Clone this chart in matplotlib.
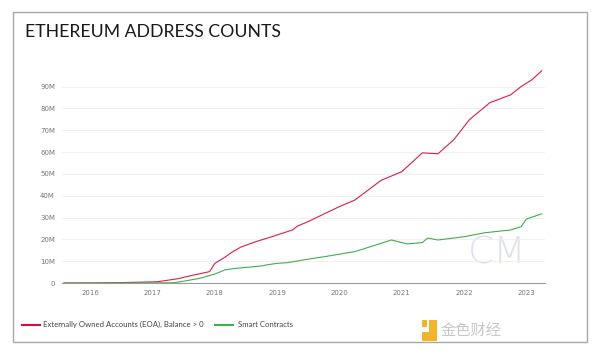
import pandas as pd
import matplotlib
matplotlib.use("Agg")
import matplotlib.pyplot as plt
import matplotlib.dates as mdates
from matplotlib.patches import Rectangle

# Datos (millones de direcciones)
eoa_fechas = ["2015-08", "2016-01", "2016-07", "2017-01", "2017-02", "2017-06",
              "2017-09", "2017-12", "2018-01", "2018-03", "2018-04", "2018-06",
              "2018-09", "2018-12", "2019-04", "2019-05", "2019-07", "2020-01",
              "2020-04", "2020-09", "2021-01", "2021-05", "2021-08", "2021-11",
              "2022-02", "2022-06", "2022-10", "2022-12", "2023-02", "2023-04"]
eoa_valores = [0.0, 0.05, 0.2, 0.5, 0.6, 2.0,
               3.7, 5.2, 9.0, 11.8, 13.6, 16.4,
               19.0, 21.2, 24.3, 26.1, 28.1, 35.0,
               38.0, 47.0, 51.0, 59.6, 59.2, 65.6,
               74.8, 82.6, 86.2, 90.0, 93.0, 97.2]

sc_fechas = ["2015-08", "2017-01", "2017-05", "2017-07", "2017-10", "2018-01",
             "2018-03", "2018-05", "2018-10", "2018-11", "2019-01", "2019-03",
             "2019-07", "2019-11", "2020-04", "2020-08", "2020-11", "2021-02",
             "2021-05", "2021-06", "2021-08", "2022-01", "2022-05", "2022-10",
             "2022-12", "2023-01", "2023-04"]
sc_valores = [0.0, 0.05, 0.1, 0.8, 2.1, 4.1,
              6.0, 6.7, 7.8, 8.3, 9.0, 9.3,
              10.9, 12.4, 14.4, 17.4, 19.7, 17.9,
              18.5, 20.6, 19.7, 21.2, 23.0, 24.3,
              25.8, 29.3, 31.7]

ticks_y = [0, 10, 20, 30, 40, 50, 60, 70, 80, 90]
etiquetas_y = ["0"] + [f"{v}M" for v in ticks_y[1:]]

rojo = "#d81e4c"
verde = "#3fae4c"

fig = plt.figure(figsize=(6, 3.55), dpi=100)
fig.patch.set_facecolor("white")

# Marco de la tarjeta
fig.patches.append(Rectangle((0.021, 0.036), 0.957, 0.929, transform=fig.transFigure,
                             fill=False, edgecolor="#a8a8a8", lw=1.0))

fig.text(0.041, 0.91, "ETHEREUM ADDRESS COUNTS", family="Lato", fontsize=12.7,
         color="#1a1a1a", va="center")

ax = fig.add_axes([0.1033, 0.2028, 0.805, 0.615])
ax.plot(pd.to_datetime(eoa_fechas), eoa_valores, color=rojo, lw=0.8)
ax.plot(pd.to_datetime(sc_fechas), sc_valores, color=verde, lw=0.8)

ax.set_xlim(pd.Timestamp("2015-07-20"), pd.Timestamp("2023-04-20"))
ax.set_ylim(0, 100)
ax.set_yticks(ticks_y)
ax.set_yticklabels(etiquetas_y)
ax.xaxis.set_major_locator(mdates.YearLocator())
ax.xaxis.set_major_formatter(mdates.DateFormatter("%Y"))

ax.grid(axis="y", color="#eeeeee", lw=0.6)
ax.set_axisbelow(True)
for s in ["top", "right", "left"]:
    ax.spines[s].set_visible(False)
ax.spines["bottom"].set_color("#9a9a9a")
ax.spines["bottom"].set_linewidth(0.8)
ax.tick_params(length=0, labelsize=5, colors="#777777", pad=5)
ax.tick_params(axis="y", pad=5)

# Marca de agua "CM"
ax.text(0.84, 0.09, "CM", transform=ax.transAxes, fontsize=27, color="#dfe1ee",
        family="DejaVu Sans", fontweight="light", zorder=0)

# Leyenda
fig.add_artist(plt.Line2D([0.037, 0.067], [0.085, 0.085], color="#d0103a", lw=1.5))
fig.text(0.072, 0.085, "Externally Owned Accounts (EOA), Balance > 0", fontsize=5.6,
         color="#444444", va="center", family="Lato")
fig.add_artist(plt.Line2D([0.358, 0.388], [0.085, 0.085], color=verde, lw=1.5))
fig.text(0.397, 0.085, "Smart Contracts", fontsize=5.6, color="#444444",
         va="center", family="Lato")

# Logo
fig.patches.append(Rectangle((0.715, 0.04), 0.013, 0.06, transform=fig.transFigure,
                             color="#f2b52a", lw=0))
fig.patches.append(Rectangle((0.704, 0.04), 0.011, 0.025, transform=fig.transFigure,
                             color="#f2b52a", lw=0))
fig.patches.append(Rectangle((0.704, 0.078), 0.008, 0.02, transform=fig.transFigure,
                             color="#f2b52a", lw=0))
fig.text(0.734, 0.07, "金色财经", family=["Noto Sans CJK SC", "DejaVu Sans"],
         fontsize=11, color="#c8c8c8", va="center")

fig.savefig("out.png", dpi=100)
